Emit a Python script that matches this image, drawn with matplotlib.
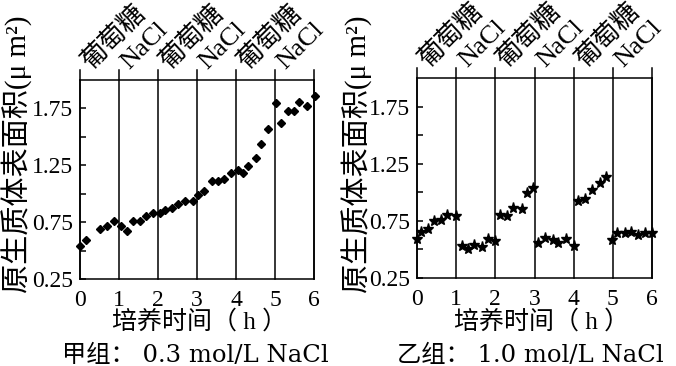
import matplotlib
matplotlib.use("Agg")
import matplotlib.pyplot as plt
import matplotlib.transforms as mtransforms

plt.rcParams['font.family'] = ['Liberation Serif', 'Noto Sans CJK SC']

# 甲组: 0.3 mol/L NaCl
x_a = [0, 0.15, 0.51, 0.70, 0.87, 1.04, 1.20, 1.35, 1.54, 1.69, 1.88, 2.05,
       2.18, 2.37, 2.52, 2.69, 2.90, 3.03, 3.19, 3.38, 3.53, 3.68, 3.86, 4.04,
       4.19, 4.32, 4.50, 4.63, 4.81, 5.02, 5.15, 5.34, 5.49, 5.62, 5.83, 6.02]
y_a = [0.54, 0.59, 0.69, 0.72, 0.76, 0.72, 0.67, 0.76, 0.76, 0.80, 0.83, 0.83,
       0.855, 0.87, 0.91, 0.94, 0.94, 0.99, 1.02, 1.11, 1.11, 1.13, 1.18, 1.21,
       1.18, 1.24, 1.31, 1.44, 1.57, 1.80, 1.62, 1.73, 1.73, 1.81, 1.77, 1.86]

# 乙组: 1.0 mol/L NaCl
x_b = [0, 0.10, 0.29, 0.44, 0.60, 0.77, 1.00, 1.14, 1.31, 1.45, 1.65, 1.80, 1.99,
       2.13, 2.30, 2.46, 2.67, 2.81, 2.97, 3.10, 3.27, 3.46, 3.60, 3.80, 4.02,
       4.11, 4.30, 4.47, 4.66, 4.82, 4.99, 5.10, 5.30, 5.47, 5.64, 5.81, 6.00]
y_b = [0.59, 0.65, 0.68, 0.75, 0.755, 0.80, 0.795, 0.53, 0.50, 0.54, 0.52, 0.59, 0.57,
       0.80, 0.79, 0.86, 0.85, 0.99, 1.04, 0.56, 0.60, 0.58, 0.56, 0.59, 0.53,
       0.92, 0.94, 1.02, 1.08, 1.13, 0.58, 0.64, 0.64, 0.65, 0.625, 0.645, 0.64]

treatments = ['葡萄糖', 'NaCl', '葡萄糖', 'NaCl', '葡萄糖', 'NaCl']
hours = [0, 1, 2, 3, 4, 5, 6]
ytick_vals = [0.25, 0.5, 0.75, 1.0, 1.25, 1.5, 1.75]
ytick_labels = ['0.25', '', '0.75', '', '1.25', '', '1.75']

W, H = 676, 366
fig = plt.figure(figsize=(W / 100, H / 100), dpi=100)
wide = ['DejaVu Serif', 'Noto Sans CJK SC']


def px(x, y):
    # pixel coords (from top-left) -> figure fraction
    return x / W, 1 - y / H


def panel(rect, xs, ys, marker, msize, ylab_x, xlab_x, sub_x, sub_text):
    l, t, r, b = rect
    ax = fig.add_axes([l / W, 1 - b / H, (r - l) / W, (b - t) / H])
    ax.plot(xs, ys, linestyle='none', marker=marker, color='black',
            markersize=msize, clip_on=False, zorder=3)
    ax.set_xlim(0, 6)
    ax.set_ylim(0.25, 2.0)
    for s in ax.spines.values():
        s.set_linewidth(1.1)
    for h in hours:
        ax.axvline(h, ymin=0, ymax=1.05, color='black', lw=1.1, clip_on=False)
    ax.set_xticks(hours)
    ax.set_xticklabels([str(h) for h in hours])
    ax.tick_params(axis='x', length=0, pad=8, labelsize=17)
    ax.set_yticks(ytick_vals)
    ax.set_yticklabels(ytick_labels)
    ax.tick_params(axis='y', direction='in', length=4, width=1.1, pad=5, labelsize=17)

    trans = mtransforms.blended_transform_factory(ax.transData, ax.transAxes)
    for i, lab in enumerate(treatments):
        ax.text(i + 0.36, 1.03, lab, transform=trans, rotation=45,
                rotation_mode='anchor', ha='left', va='bottom', fontsize=19)

    fx, fy = px(ylab_x, 154)
    fig.text(fx, fy, '原生质体表面积(μ m²)', rotation=90, ha='center', va='center',
             fontsize=21)
    fx, fy = px(xlab_x, 322)
    fig.text(fx, fy, '培养时间（ h ）', ha='center', va='center', fontsize=18)
    fx, fy = px(sub_x, 356)
    fig.text(fx, fy, sub_text, ha='left', va='center', fontsize=17.5, family=wide)
    return ax


panel((80, 80, 314, 279), x_a, y_a, 'D', 4.5, 17, 200, 62, '甲组： 0.3 mol/L NaCl')
panel((417, 78, 652, 278), x_b, y_b, '*', 8, 357, 542, 397, '乙组： 1.0 mol/L NaCl')

fig.savefig('out.png', dpi=100)
